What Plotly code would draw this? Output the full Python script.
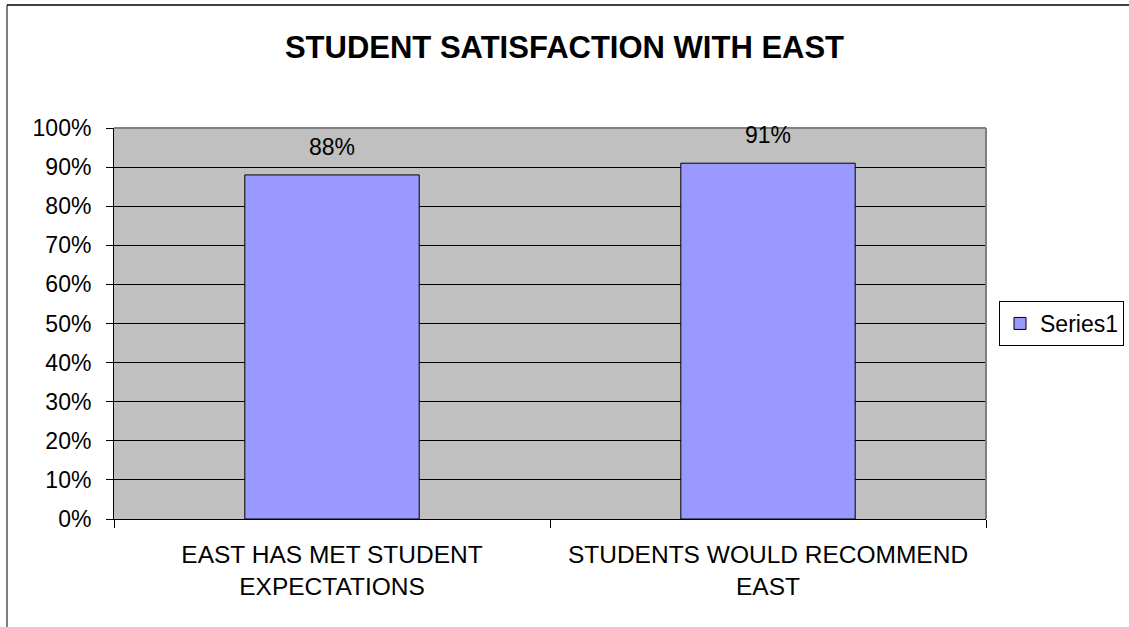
import plotly.graph_objects as go

categories = ["EAST HAS MET STUDENT<br>EXPECTATIONS", "STUDENTS WOULD RECOMMEND<br>EAST"]
values = [0.88, 0.91]
series_name = "Series1"
title_text = "STUDENT SATISFACTION WITH EAST"

FONT = "Liberation Sans, Arial, sans-serif"

fig = go.Figure()
fig.add_trace(go.Bar(
    x=categories, y=values, name=series_name,
    marker=dict(color="#9999FF", line=dict(color="black", width=1)),
    showlegend=True, hoverinfo="skip",
))

for c, v in zip(categories, values):
    fig.add_annotation(x=c, y=v, text=f"{round(v*100)}%", showarrow=False,
                       yanchor="bottom", yshift=13,
                       font=dict(family=FONT, size=23, color="black"))

W, H = 1129, 627
L, R, T, B = 114, 986, 128, 519
def px(x):
    return (x - L) / (R - L)
def py(y):
    return (B - y) / (B - T)

# plot-area grey border (top & right)
fig.add_shape(type="line", xref="paper", yref="paper", x0=0, x1=1, y0=1, y1=1,
              line=dict(color="#808080", width=2), layer="above")
fig.add_shape(type="line", xref="paper", yref="paper", x0=1, x1=1, y0=0, y1=1,
              line=dict(color="#808080", width=2), layer="above")
# outer chart border (top & left visible)
fig.add_shape(type="line", xref="paper", yref="paper", x0=px(7), x1=px(1135), y0=py(5), y1=py(5),
              line=dict(color="black", width=1.5))
fig.add_shape(type="line", xref="paper", yref="paper", x0=px(7), x1=px(7), y0=py(5), y1=py(640),
              line=dict(color="black", width=1))

fig.update_layout(
    width=W, height=H,
    margin=dict(l=L, r=W - R, t=T, b=H - B, autoexpand=False),
    paper_bgcolor="white", plot_bgcolor="#C0C0C0",
    bargap=0.6,
    font=dict(family=FONT, size=23, color="black"),
    title=dict(text="<b>" + title_text + "</b>", x=0.5, xanchor="center",
               y=1 - 47 / H, yanchor="middle", yref="container",
               font=dict(family=FONT, size=31, color="black")),
    legend=dict(x=px(999), xanchor="left", y=0.5, yanchor="middle",
                bordercolor="black", borderwidth=1, bgcolor="white",
                font=dict(family=FONT, size=23, color="black"),
                itemwidth=30, tracegroupgap=0),
    xaxis=dict(showline=True, linecolor="black", linewidth=1,
               ticks="outside", ticklen=8, tickcolor="black", tickson="boundaries",
               showgrid=False, ticklabelstandoff=14,
               tickfont=dict(family=FONT, size=24.5, color="black")),
    yaxis=dict(range=[0, 1], dtick=0.1, tickformat=".0%",
               showline=True, linecolor="black", linewidth=1,
               ticks="outside", ticklen=7, tickcolor="black",
               showgrid=True, gridcolor="black", gridwidth=1,
               zeroline=False, ticklabelstandoff=10,
               tickfont=dict(family=FONT, size=23, color="black")),
)

fig.write_html("out.html")
